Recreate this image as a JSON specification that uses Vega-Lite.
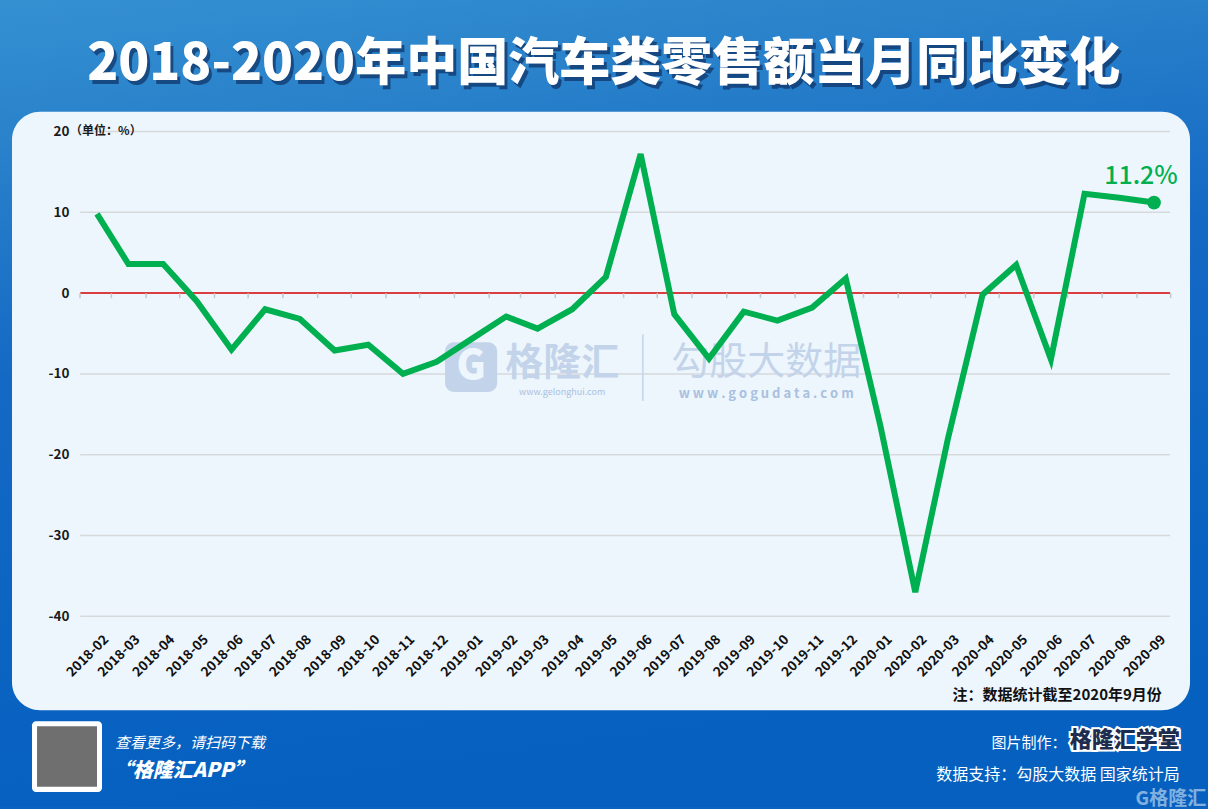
{
  "$schema": "https://vega.github.io/schema/vega-lite/v6.json",
  "width": 1208,
  "height": 809,
  "padding": 0,
  "autosize": {"type": "fit", "contains": "padding"},
  "background": "#0b62c0",
  "config": {
    "view": {"stroke": null},
    "font": "Noto Sans CJK SC",
    "axis": {"grid": false, "domain": false, "title": null, "labelOverlap": false, "labelFlush": false, "labelBound": false, "zindex": 1}
  },
  "resolve": {"axis": {"x": "independent", "y": "independent"}},
  "data": {
    "values": [
      {"month": "2018-02", "value": 9.8},
      {"month": "2018-03", "value": 3.6},
      {"month": "2018-04", "value": 3.6},
      {"month": "2018-05", "value": -1.0},
      {"month": "2018-06", "value": -7.0},
      {"month": "2018-07", "value": -2.0},
      {"month": "2018-08", "value": -3.2},
      {"month": "2018-09", "value": -7.1},
      {"month": "2018-10", "value": -6.4},
      {"month": "2018-11", "value": -10.0},
      {"month": "2018-12", "value": -8.5},
      {"month": "2019-01", "value": -5.7},
      {"month": "2019-02", "value": -2.9},
      {"month": "2019-03", "value": -4.4},
      {"month": "2019-04", "value": -2.0},
      {"month": "2019-05", "value": 2.0},
      {"month": "2019-06", "value": 17.2},
      {"month": "2019-07", "value": -2.6},
      {"month": "2019-08", "value": -8.1},
      {"month": "2019-09", "value": -2.3},
      {"month": "2019-10", "value": -3.4},
      {"month": "2019-11", "value": -1.8},
      {"month": "2019-12", "value": 1.8},
      {"month": "2020-01", "value": -16.5},
      {"month": "2020-02", "value": -37.0},
      {"month": "2020-03", "value": -18.1},
      {"month": "2020-04", "value": -0.2},
      {"month": "2020-05", "value": 3.5},
      {"month": "2020-06", "value": -8.2},
      {"month": "2020-07", "value": 12.3},
      {"month": "2020-08", "value": 11.8},
      {"month": "2020-09", "value": 11.2}
    ],
    "format": {"parse": {"month": "date:'%Y-%m'"}}
  },
  "layer": [
    {
      "data": {"values": [{}]},
      "mark": {"type": "rect", "fill": {"gradient": "linear", "x1": 0, "y1": 0, "x2": 0.2, "y2": 1, "stops": [{"offset": 0, "color": "#3590d2"}, {"offset": 0.15, "color": "#2b84cb"}, {"offset": 0.45, "color": "#1469c4"}, {"offset": 1, "color": "#0560c0"}]}},
      "encoding": {}
    },
    {
      "data": {"values": [{}]},
      "mark": {"type": "rect", "fill": "#eef6fd", "cornerRadius": 28},
      "encoding": {
        "x": {"datum": {"year": 2017, "month": 11, "date": 17, "hours": 4}, "type": "temporal", "axis": null, "scale": {"domain": [{"year": 2017, "month": 11, "date": 6, "hours": 11}, {"year": 2020, "month": 10, "date": 19, "hours": 4}], "nice": false}},
        "x2": {"datum": {"year": 2020, "month": 10, "date": 3, "hours": 3}},
        "y": {"datum": 22.44, "type": "quantitative", "axis": null, "scale": {"domain": [-63.6, 36.27], "nice": false, "zero": false}},
        "y2": {"datum": -51.63}
      }
    },
    {
      "data": {"values": [{"v": 20}, {"v": 10}, {"v": -10}, {"v": -20}, {"v": -30}, {"v": -40}]},
      "mark": {"type": "rule", "color": "#d6d9dc", "strokeWidth": 1.5},
      "encoding": {
        "x": {"datum": {"year": 2018, "month": 1, "date": 17}, "type": "temporal", "axis": null},
        "x2": {"datum": {"year": 2020, "month": 9, "date": 15, "hours": 8}},
        "y": {"field": "v", "type": "quantitative", "axis": null}
      }
    },
    {
      "data": {"values": [{}]},
      "mark": {"type": "rule", "color": "#d40000", "strokeWidth": 1.5},
      "encoding": {
        "x": {"datum": {"year": 2018, "month": 1, "date": 17}, "type": "temporal", "axis": null},
        "x2": {"datum": {"year": 2020, "month": 9, "date": 15, "hours": 8}},
        "y": {"datum": 0, "type": "quantitative", "axis": null}
      }
    },
    {
      "mark": {"type": "tick", "orient": "vertical", "size": 5, "thickness": 1.5, "color": "#c4c8cc", "opacity": 1, "xOffset": -17},
      "encoding": {
        "x": {"field": "month", "type": "temporal", "axis": null},
        "y": {"datum": -0.32, "type": "quantitative", "axis": null}
      }
    },
    {
      "data": {"values": [{}]},
      "mark": {"type": "tick", "orient": "vertical", "size": 5, "thickness": 1.5, "color": "#c4c8cc", "opacity": 1, "xOffset": -17},
      "encoding": {
        "x": {"datum": {"year": 2020, "month": 10}, "type": "temporal", "axis": null},
        "y": {"datum": -0.32, "type": "quantitative", "axis": null}
      }
    },
    {
      "data": {"values": [{}]},
      "mark": {"type": "rect", "fill": "#c3d4ea", "cornerRadius": 9},
      "encoding": {
        "x": {"datum": {"year": 2018, "month": 12, "date": 8, "hours": 12}, "type": "temporal", "axis": null},
        "x2": {"datum": {"year": 2019, "month": 1, "date": 24}},
        "y": {"datum": -6.07, "type": "quantitative", "axis": null},
        "y2": {"datum": -12.25}
      }
    },
    {
      "data": {"values": [{}]},
      "mark": {"type": "text", "text": "G", "font": "Noto Sans CJK SC", "fontSize": 40, "fontWeight": 900, "fill": "#eef6fd", "align": "center", "baseline": "middle"},
      "encoding": {
        "x": {"datum": {"year": 2018, "month": 12, "date": 31, "hours": 17}, "type": "temporal", "axis": null},
        "y": {"datum": -9.2, "type": "quantitative", "axis": null}
      }
    },
    {
      "data": {"values": [{}]},
      "mark": {"type": "rule", "color": "#c3d4ea", "strokeWidth": 1.5},
      "encoding": {
        "x": {"datum": {"year": 2019, "month": 6, "date": 3}, "type": "temporal", "axis": null},
        "y": {"datum": -5.09, "type": "quantitative", "axis": null},
        "y2": {"datum": -13.36}
      }
    },
    {
      "data": {"values": [{}]},
      "mark": {"type": "text", "text": "格隆汇", "font": "Noto Sans CJK SC", "fontSize": 38, "fontWeight": "bold", "fill": "#c3d4ea", "align": "center", "baseline": "middle"},
      "encoding": {
        "x": {"datum": {"year": 2019, "month": 3, "date": 23}, "type": "temporal", "axis": null},
        "y": {"datum": -8.8, "type": "quantitative", "axis": null}
      }
    },
    {
      "data": {"values": [{}]},
      "mark": {"type": "text", "text": "勾股大数据", "font": "Noto Sans CJK SC", "fontSize": 38, "fill": "#c3d4ea", "align": "center", "baseline": "middle"},
      "encoding": {
        "x": {"datum": {"year": 2019, "month": 9, "date": 21}, "type": "temporal", "axis": null},
        "y": {"datum": -8.6, "type": "quantitative", "axis": null}
      }
    },
    {
      "data": {"values": [{}]},
      "mark": {"type": "text", "text": "w w w . g o g u d a t a . c o m", "font": "Noto Sans CJK SC", "fontSize": 13, "fontWeight": "bold", "fill": "#a9c0e0", "align": "center", "baseline": "middle"},
      "encoding": {
        "x": {"datum": {"year": 2019, "month": 9, "date": 21}, "type": "temporal", "axis": null},
        "y": {"datum": -12.45, "type": "quantitative", "axis": null}
      }
    },
    {
      "data": {"values": [{}]},
      "mark": {"type": "text", "text": "www.gelonghui.com", "font": "Noto Sans CJK SC", "fontSize": 9, "fill": "#a9c0e0", "align": "center", "baseline": "middle"},
      "encoding": {
        "x": {"datum": {"year": 2019, "month": 3, "date": 23}, "type": "temporal", "axis": null},
        "y": {"datum": -12.3, "type": "quantitative", "axis": null}
      }
    },
    {
      "mark": {"type": "line", "color": "#00b050", "strokeWidth": 6},
      "encoding": {
        "x": {"field": "month", "type": "temporal",
          "axis": {"orient": "bottom", "offset": -191, "zindex": 2, "format": "%Y-%m", "labelAngle": -45, "labelAlign": "right", "labelBaseline": "top", "labelPadding": 16, "labelOffset": 4, "ticks": false, "tickSize": 0, "labelFont": "Noto Sans CJK SC", "labelFontSize": 13.5, "labelFontWeight": "bold", "labelColor": "#111111",
            "values": [{"year": 2018, "month": 2}, {"year": 2018, "month": 3}, {"year": 2018, "month": 4}, {"year": 2018, "month": 5}, {"year": 2018, "month": 6}, {"year": 2018, "month": 7}, {"year": 2018, "month": 8}, {"year": 2018, "month": 9}, {"year": 2018, "month": 10}, {"year": 2018, "month": 11}, {"year": 2018, "month": 12}, {"year": 2019, "month": 1}, {"year": 2019, "month": 2}, {"year": 2019, "month": 3}, {"year": 2019, "month": 4}, {"year": 2019, "month": 5}, {"year": 2019, "month": 6}, {"year": 2019, "month": 7}, {"year": 2019, "month": 8}, {"year": 2019, "month": 9}, {"year": 2019, "month": 10}, {"year": 2019, "month": 11}, {"year": 2019, "month": 12}, {"year": 2020, "month": 1}, {"year": 2020, "month": 2}, {"year": 2020, "month": 3}, {"year": 2020, "month": 4}, {"year": 2020, "month": 5}, {"year": 2020, "month": 6}, {"year": 2020, "month": 7}, {"year": 2020, "month": 8}, {"year": 2020, "month": 9}]}},
        "y": {"field": "value", "type": "quantitative",
          "axis": {"orient": "left", "offset": -80, "zindex": 2, "values": [20, 10, 0, -10, -20, -30, -40], "labelExpr": "datum.value + ''", "ticks": false, "tickSize": 0, "labelPadding": 11, "labelFont": "Noto Sans CJK SC", "labelFontSize": 13.5, "labelFontWeight": "bold", "labelColor": "#1a1a1a"}}
      }
    },
    {
      "transform": [{"filter": "year(datum.month) == 2020 && month(datum.month) == 8"}, {"calculate": "format(datum.value, '.1f') + '%'", "as": "label"}],
      "layer": [
        {
          "mark": {"type": "circle", "size": 190, "color": "#00b050", "opacity": 1},
          "encoding": {
            "x": {"field": "month", "type": "temporal", "axis": null},
            "y": {"field": "value", "type": "quantitative", "axis": null}
          }
        },
        {
          "mark": {"type": "text", "font": "Noto Sans CJK SC", "fontSize": 25, "fontWeight": 500, "color": "#00b050", "align": "center", "baseline": "middle", "dx": -13, "dy": -27},
          "encoding": {
            "x": {"field": "month", "type": "temporal", "axis": null},
            "y": {"field": "value", "type": "quantitative", "axis": null},
            "text": {"field": "label"}
          }
        }
      ]
    },
    {
      "data": {"values": [{}]},
      "mark": {"type": "text", "text": "（单位：%）", "font": "Noto Sans CJK SC", "fontSize": 12, "fontWeight": "bold", "fill": "#1a1a1a", "align": "left", "baseline": "middle"},
      "encoding": {
        "x": {"datum": {"year": 2018, "month": 1, "date": 8}, "type": "temporal", "axis": null},
        "y": {"datum": 20, "type": "quantitative", "axis": null}
      }
    },
    {
      "data": {"values": [{}]},
      "mark": {"type": "text", "text": "注：数据统计截至2020年9月份", "font": "Noto Sans CJK SC", "fontSize": 15, "fontWeight": "bold", "fill": "#111111", "align": "right", "baseline": "middle"},
      "encoding": {
        "x": {"datum": {"year": 2020, "month": 9, "date": 8}, "type": "temporal", "axis": null},
        "y": {"datum": -49.8, "type": "quantitative", "axis": null}
      }
    },
    {
      "data": {"values": [{}]},
      "mark": {"type": "text", "text": "2018-2020年中国汽车类零售额当月同比变化", "font": "Noto Sans CJK SC", "fontSize": 51, "fontWeight": 900, "fill": "#0c2a5c", "opacity": 0.65, "dx": 3, "dy": 4, "align": "center", "baseline": "middle"},
      "encoding": {
        "x": {"datum": {"year": 2019, "month": 4, "date": 29}, "type": "temporal", "axis": null},
        "y": {"datum": 28.2, "type": "quantitative", "axis": null}
      }
    },
    {
      "data": {"values": [{}]},
      "mark": {"type": "text", "text": "2018-2020年中国汽车类零售额当月同比变化", "font": "Noto Sans CJK SC", "fontSize": 51, "fontWeight": 900, "fill": "#ffffff", "align": "center", "baseline": "middle"},
      "encoding": {
        "x": {"datum": {"year": 2019, "month": 4, "date": 29}, "type": "temporal", "axis": null},
        "y": {"datum": 28.2, "type": "quantitative", "axis": null}
      }
    },
    {
      "data": {"values": [{}]},
      "mark": {"type": "rect", "fill": "#ffffff", "cornerRadius": 4},
      "encoding": {
        "x": {"datum": {"year": 2017, "month": 12, "date": 5}, "type": "temporal", "axis": null},
        "x2": {"datum": {"year": 2018, "month": 2, "date": 5, "hours": 11}},
        "y": {"datum": -52.99, "type": "quantitative", "axis": null},
        "y2": {"datum": -61.75}
      }
    },
    {
      "data": {"values": [{}]},
      "mark": {"type": "rect", "fill": "#6f6f6f"},
      "encoding": {
        "x": {"datum": {"year": 2017, "month": 12, "date": 9, "hours": 12}, "type": "temporal", "axis": null},
        "x2": {"datum": {"year": 2018, "month": 2, "date": 1}},
        "y": {"datum": -53.6, "type": "quantitative", "axis": null},
        "y2": {"datum": -61.1}
      }
    },
    {
      "data": {"values": [{}]},
      "mark": {"type": "text", "text": "查看更多，请扫码下载", "font": "Noto Sans CJK SC", "fontSize": 15, "fontStyle": "italic", "fill": "#ffffff", "align": "left", "baseline": "middle"},
      "encoding": {
        "x": {"datum": {"year": 2018, "month": 2, "date": 17}, "type": "temporal", "axis": null},
        "y": {"datum": -55.7, "type": "quantitative", "axis": null}
      }
    },
    {
      "data": {"values": [{}]},
      "mark": {"type": "text", "text": "“格隆汇APP”", "font": "Noto Sans CJK SC", "fontSize": 20, "fontStyle": "italic", "fontWeight": 900, "fill": "#ffffff", "align": "left", "baseline": "middle"},
      "encoding": {
        "x": {"datum": {"year": 2018, "month": 2, "date": 15}, "type": "temporal", "axis": null},
        "y": {"datum": -59.2, "type": "quantitative", "axis": null}
      }
    },
    {
      "data": {"values": [{}]},
      "mark": {"type": "text", "text": "图片制作：", "font": "Noto Sans CJK SC", "fontSize": 15, "fill": "#ffffff", "align": "right", "baseline": "middle"},
      "encoding": {
        "x": {"datum": {"year": 2020, "month": 6, "date": 15}, "type": "temporal", "axis": null},
        "y": {"datum": -55.7, "type": "quantitative", "axis": null}
      }
    },
    {
      "data": {"values": [{}]},
      "mark": {"type": "text", "text": "格隆汇学堂", "font": "Noto Sans CJK SC", "fontSize": 22, "fontWeight": 900, "fill": "#ffffff", "stroke": "#ffffff", "strokeWidth": 4, "align": "center", "baseline": "middle"},
      "encoding": {
        "x": {"datum": {"year": 2020, "month": 8, "date": 6}, "type": "temporal", "axis": null},
        "y": {"datum": -55.3, "type": "quantitative", "axis": null}
      }
    },
    {
      "data": {"values": [{}]},
      "mark": {"type": "text", "text": "格隆汇学堂", "font": "Noto Sans CJK SC", "fontSize": 22, "fontWeight": 900, "fill": "#1e2d4d", "align": "center", "baseline": "middle"},
      "encoding": {
        "x": {"datum": {"year": 2020, "month": 8, "date": 6}, "type": "temporal", "axis": null},
        "y": {"datum": -55.3, "type": "quantitative", "axis": null}
      }
    },
    {
      "data": {"values": [{}]},
      "mark": {"type": "text", "text": "数据支持：勾股大数据 国家统计局", "font": "Noto Sans CJK SC", "fontSize": 16, "fill": "#ffffff", "align": "right", "baseline": "middle"},
      "encoding": {
        "x": {"datum": {"year": 2020, "month": 9, "date": 24}, "type": "temporal", "axis": null},
        "y": {"datum": -59.6, "type": "quantitative", "axis": null}
      }
    },
    {
      "data": {"values": [{}]},
      "mark": {"type": "text", "text": "G格隆汇", "font": "Noto Sans CJK SC", "fontSize": 19, "fontWeight": "bold", "fill": "#ffffff", "opacity": 0.5, "align": "center", "baseline": "middle"},
      "encoding": {
        "x": {"datum": {"year": 2020, "month": 9, "date": 16}, "type": "temporal", "axis": null},
        "y": {"datum": -62.6, "type": "quantitative", "axis": null}
      }
    }
  ]
}
